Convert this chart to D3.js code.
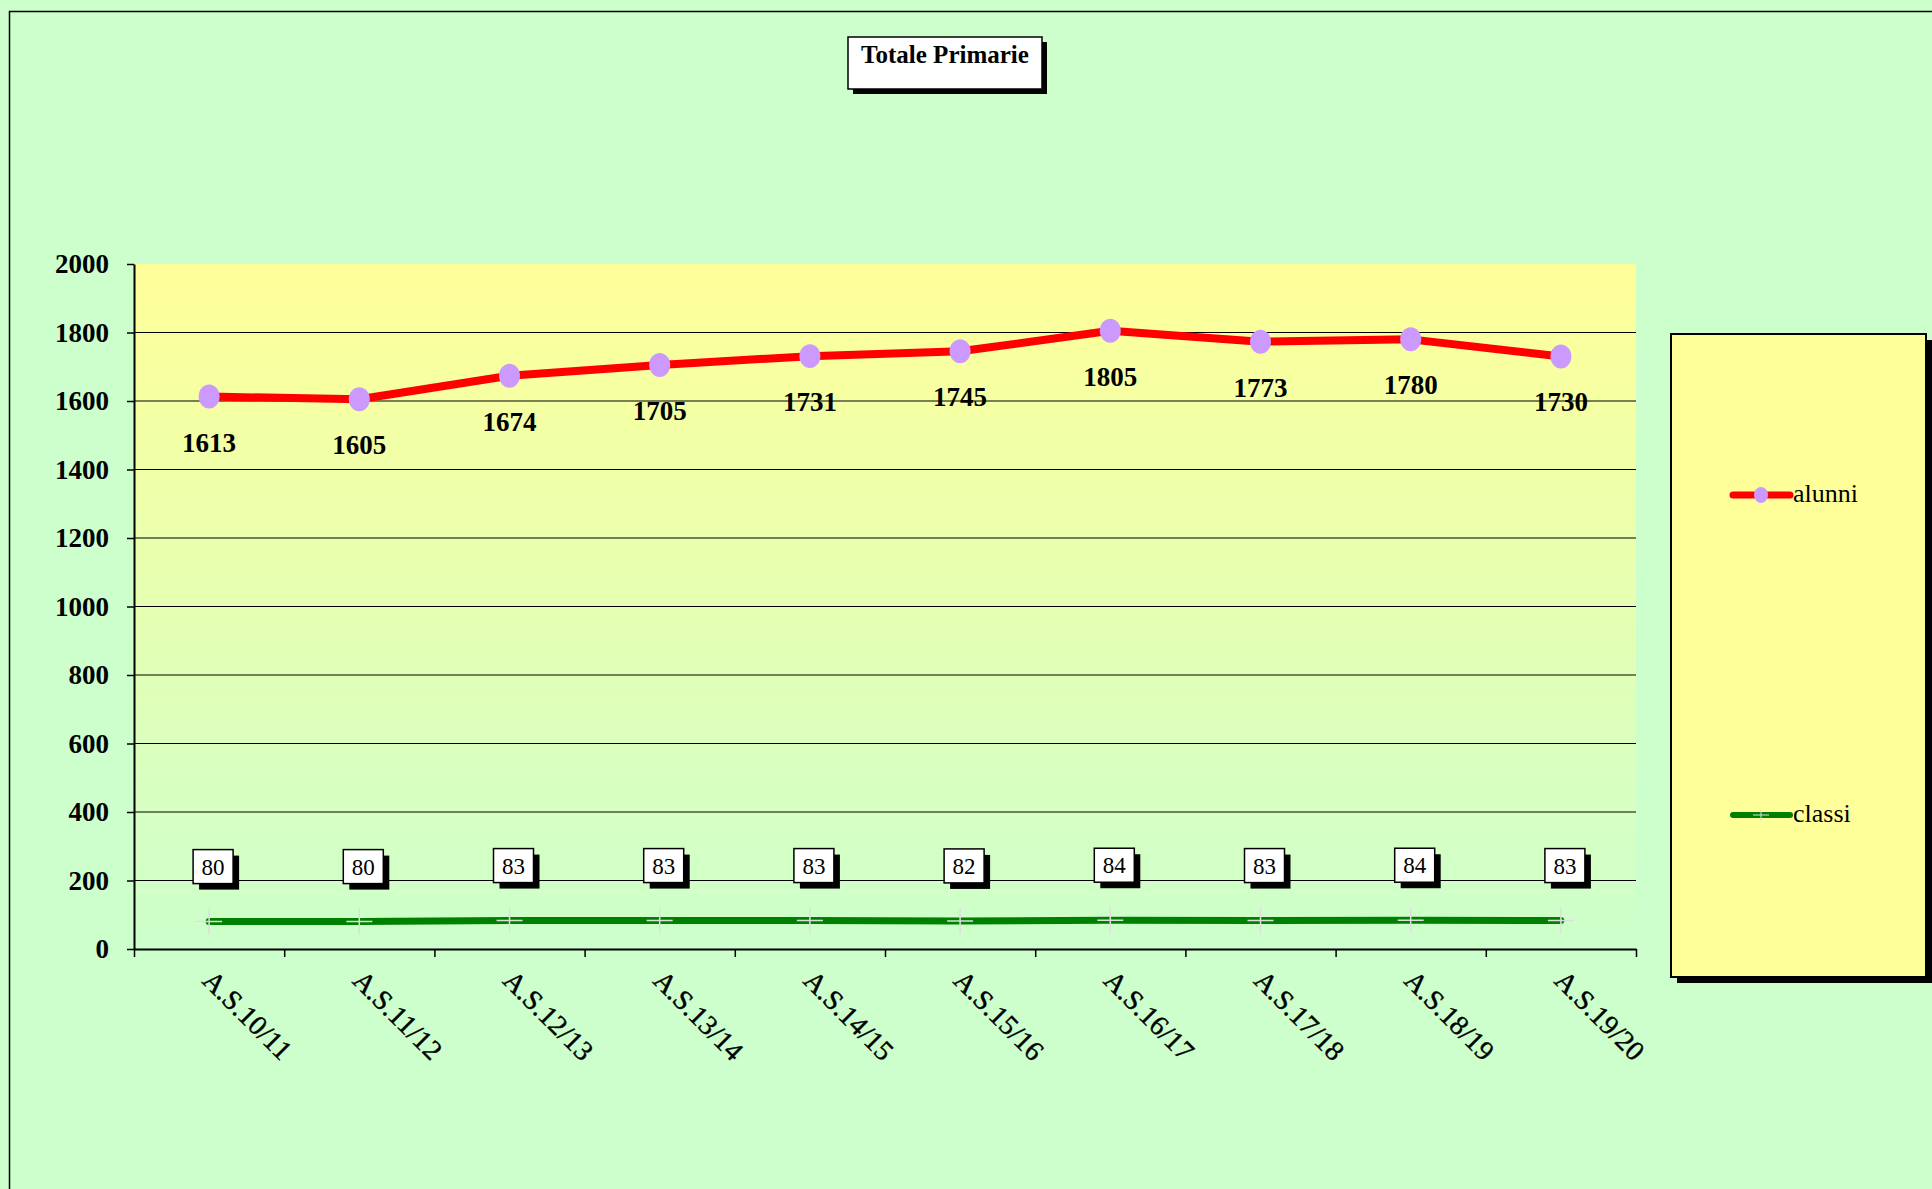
<!DOCTYPE html>
<html>
<head>
<meta charset="utf-8">
<script src="https://cdn.jsdelivr.net/npm/d3@7"></script>
<style>
body { margin: 0; background: #CCFFCC; }
svg { display: block; }
text { font-family: "Liberation Serif", "Times New Roman", serif; }
</style>
</head>
<body>
<svg class="chart-container" width="1932" height="1189"></svg>
<script>
// data
const years = ['A.S.10/11', 'A.S.11/12', 'A.S.12/13', 'A.S.13/14', 'A.S.14/15',
	'A.S.15/16', 'A.S.16/17', 'A.S.17/18', 'A.S.18/19', 'A.S.19/20'];
const alunni = [1613, 1605, 1674, 1705, 1731, 1745, 1805, 1773, 1780, 1730];
const classi = [80, 80, 83, 83, 83, 82, 84, 83, 84, 83];
const yTicks = [0, 200, 400, 600, 800, 1000, 1200, 1400, 1600, 1800, 2000];
const seriesNames = ['alunni', 'classi'];
const chartTitle = 'Totale Primarie';

// margin conventions
const margin = { top: 264, right: 296, bottom: 240, left: 134 };
const width = 1636 - margin.left;
const height = 949 - margin.top;

const svg = d3.select('.chart-container');

const x = d3.scaleBand().domain(years).range([margin.left, margin.left + width]);
const xEdges = d3.scaleLinear().domain([0, years.length]).range([margin.left, margin.left + width]);
const y = d3.scaleLinear().domain([0, 2000]).range([margin.top + height, margin.top]);
const cx = (d) => x(d) + x.bandwidth() / 2;

// outer frame
svg.append('rect')
	.attr('x', 9.5).attr('y', 11.5)
	.attr('width', 1940).attr('height', 1200)
	.attr('fill', '#CCFFCC').attr('stroke', '#000').attr('stroke-width', 1.5);

// plot background gradient
const defs = svg.append('defs');
const grad = defs.append('linearGradient').attr('id', 'plotGrad')
	.attr('x1', 0).attr('y1', 0).attr('x2', 0).attr('y2', 1);
grad.append('stop').attr('offset', '0%').attr('stop-color', '#FFFF99');
grad.append('stop').attr('offset', '100%').attr('stop-color', '#CCFFCC');

svg.append('rect')
	.attr('x', margin.left).attr('y', margin.top)
	.attr('width', width).attr('height', height)
	.attr('fill', 'url(#plotGrad)');

// grid lines
svg.append('g').attr('class', 'grid')
	.selectAll('line')
	.data(yTicks.filter((d) => d > 0 && d < 2000))
	.enter().append('line')
	.attr('x1', margin.left).attr('x2', margin.left + width)
	.attr('y1', (d) => y(d)).attr('y2', (d) => y(d))
	.attr('stroke', '#000').attr('stroke-width', 1.2);

// y axis
const yAxis = svg.append('g').attr('class', 'y-axis')
	.attr('transform', 'translate(' + margin.left + ',0)')
	.call(d3.axisLeft(y).tickValues(yTicks).tickSize(7).tickPadding(18).tickSizeOuter(0).tickFormat(d3.format('d')));
yAxis.select('.domain').attr('stroke-width', 2);
yAxis.selectAll('.tick line').attr('stroke-width', 1.5);
yAxis.selectAll('text')
	.style('font-family', '"Liberation Serif", serif')
	.style('font-size', '27px').style('font-weight', 'bold').attr('fill', '#000');

// x axis (ticks at band edges)
const xAxis = svg.append('g').attr('class', 'x-axis')
	.attr('transform', 'translate(0,' + (margin.top + height) + ')')
	.call(d3.axisBottom(xEdges).tickValues(d3.range(years.length + 1)).tickSize(8).tickFormat('').tickSizeOuter(0));
xAxis.select('.domain').attr('stroke-width', 2);
xAxis.selectAll('.tick line').attr('stroke-width', 1.5);

svg.append('g').attr('class', 'x-labels')
	.selectAll('text')
	.data(years)
	.enter().append('text')
	.attr('transform', (d) => 'translate(' + (cx(d) - 8) + ',' + (margin.top + height + 33) + ') rotate(45)')
	.attr('text-anchor', 'start')
	.style('font-size', '28px')
	.attr('stroke', '#000').attr('stroke-width', 0.4)
	.text((d) => d);

// classi line
const classiLine = d3.line().x((d, i) => cx(years[i])).y((d) => y(d));
svg.append('path')
	.datum(classi)
	.attr('d', classiLine)
	.attr('fill', 'none').attr('stroke', '#008000')
	.attr('stroke-width', 7).attr('stroke-linecap', 'round');

svg.append('g').attr('class', 'classi-markers')
	.selectAll('path')
	.data(classi)
	.enter().append('path')
	.attr('transform', (d, i) => 'translate(' + cx(years[i]) + ',' + y(d) + ')')
	.attr('d', 'M-13,0H13M0,-13V13')
	.attr('stroke', '#DDDDDD').attr('stroke-width', 1.5);

// classi labels
const classiLabels = svg.append('g').attr('class', 'classi-labels')
	.selectAll('g')
	.data(classi)
	.enter().append('g')
	.attr('transform', (d, i) => 'translate(' + (cx(years[i]) + 4) + ',' + (y(d) - 55) + ')');
classiLabels.append('rect')
	.attr('x', -20 + 6).attr('y', -17 + 6).attr('width', 40).attr('height', 34)
	.attr('fill', '#000');
classiLabels.append('rect')
	.attr('x', -20).attr('y', -17).attr('width', 40).attr('height', 34)
	.attr('fill', '#fff').attr('stroke', '#000').attr('stroke-width', 1.5);
classiLabels.append('text')
	.attr('text-anchor', 'middle').attr('y', 8)
	.style('font-size', '23px')
	.text((d) => d);

// alunni line
const alunniLine = d3.line().x((d, i) => cx(years[i])).y((d) => y(d));
svg.append('path')
	.datum(alunni)
	.attr('d', alunniLine)
	.attr('fill', 'none').attr('stroke', '#FF0000')
	.attr('stroke-width', 8).attr('stroke-linejoin', 'round').attr('stroke-linecap', 'round');

svg.append('g').attr('class', 'alunni-markers')
	.selectAll('ellipse')
	.data(alunni)
	.enter().append('ellipse')
	.attr('cx', (d, i) => cx(years[i])).attr('cy', (d) => y(d))
	.attr('rx', 10.5).attr('ry', 12)
	.attr('fill', '#CC99FF');

svg.append('g').attr('class', 'alunni-labels')
	.selectAll('text')
	.data(alunni)
	.enter().append('text')
	.attr('x', (d, i) => cx(years[i]))
	.attr('y', (d) => y(d) + 55)
	.attr('text-anchor', 'middle')
	.style('font-size', '27px').style('font-weight', 'bold')
	.text((d) => d);

// title box
const title = svg.append('g').attr('class', 'title');
title.append('rect').attr('x', 853).attr('y', 42).attr('width', 194).attr('height', 52).attr('fill', '#000');
title.append('rect').attr('x', 848).attr('y', 37).attr('width', 194).attr('height', 52)
	.attr('fill', '#fff').attr('stroke', '#000').attr('stroke-width', 1.5);
title.append('text').attr('x', 945).attr('y', 63).attr('text-anchor', 'middle')
	.style('font-size', '25px').style('font-weight', 'bold')
	.text(chartTitle);

// legend
const legend = svg.append('g').attr('class', 'legend');
legend.append('rect').attr('x', 1677).attr('y', 340).attr('width', 255).attr('height', 643).attr('fill', '#000');
legend.append('rect').attr('x', 1671).attr('y', 334).attr('width', 255).attr('height', 643)
	.attr('fill', '#FFFF99').attr('stroke', '#000').attr('stroke-width', 2);

const legendColors = ['#FF0000', '#008000'];
const legendItems = legend.selectAll('.legend-item')
	.data(seriesNames)
	.enter().append('g')
	.attr('class', 'legend-item')
	.attr('transform', (d, i) => 'translate(1733,' + (495 + i * 320) + ')');
legendItems.append('line')
	.attr('x1', 0).attr('x2', 57)
	.attr('stroke', (d, i) => legendColors[i])
	.attr('stroke-width', (d, i) => i === 0 ? 7 : 6)
	.attr('stroke-linecap', 'round');
legendItems.filter((d, i) => i === 0).append('ellipse')
	.attr('cx', 28).attr('rx', 7).attr('ry', 8).attr('fill', '#CC99FF');
legendItems.filter((d, i) => i === 1).append('path')
	.attr('d', 'M20,0H36M28,-6V6').attr('stroke', '#DDDDDD').attr('stroke-width', 1);
legendItems.append('text')
	.attr('x', 60).attr('y', 7)
	.style('font-size', '26px')
	.text((d) => d);
</script>
</body>
</html>
